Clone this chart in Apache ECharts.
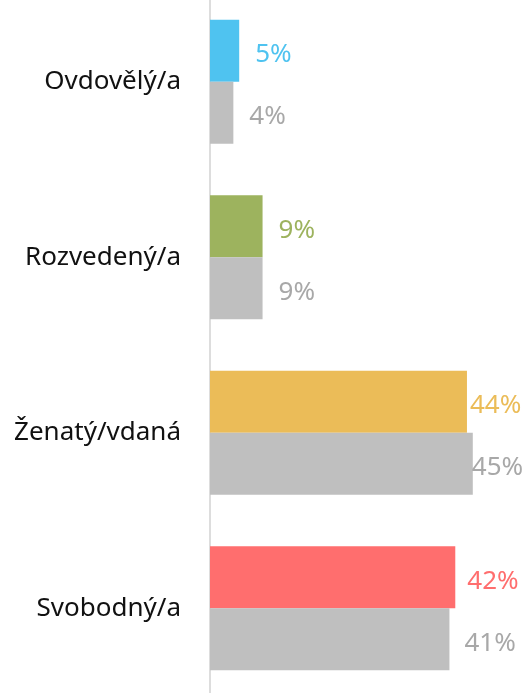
<!DOCTYPE html>
<html><head><meta charset="utf-8">
<script src="https://cdn.jsdelivr.net/npm/echarts@6/dist/echarts.min.js"></script>
<style>html,body{margin:0;padding:0;background:#fff}#c{width:526px;height:693px}</style>
</head><body><div id="c"></div>
<script>
const categories = ['Ovdovělý/a', 'Rozvedený/a', 'Ženatý/vdaná', 'Svobodný/a'];
const currentValues = [5, 9, 44, 42];
const compareValues = [4, 9, 45, 41];

const catColors = ['#4fc3f0', '#9db35e', '#ebbc58', '#ff6e6e'];
const grayColor = '#bfbfbf';
const grayLabel = '#a8a8a8';
const distColored = [16, 16, 3, 12];
const distGray = [16, 16, -1, 15];
const FONT = 'Noto Sans';

const chart = echarts.init(document.getElementById('c'));
const valueLabel = {show: true, position: 'right', formatter: '{c}%', fontSize: 26, fontFamily: FONT, offset: [0, 4]};
chart.setOption({
  animation: false,
  grid: {left: 210, right: 24, top: -6, bottom: -3, outerBoundsMode: 'none', containLabel: false},
  xAxis: {type: 'value', min: 0, max: 50, show: false},
  yAxis: {
    type: 'category', data: categories, inverse: true,
    axisLine: {show: true, lineStyle: {color: '#dddddd', width: 2}},
    axisTick: {show: false},
    axisLabel: {color: '#111', fontSize: 26, fontFamily: FONT, margin: 29, padding: [6, 0, 0, 0]}
  },
  series: [
    {
      type: 'bar', barWidth: 62, barGap: '0%',
      data: currentValues.map((v, i) => ({
        value: v,
        itemStyle: {color: catColors[i]},
        label: {color: catColors[i], distance: distColored[i]}
      })),
      label: Object.assign({}, valueLabel)
    },
    {
      type: 'bar', barWidth: 62, barGap: '0%',
      itemStyle: {color: grayColor},
      data: compareValues.map((v, i) => ({value: v, label: {distance: distGray[i]}})),
      label: Object.assign({color: grayLabel}, valueLabel)
    }
  ]
});
</script></body></html>
